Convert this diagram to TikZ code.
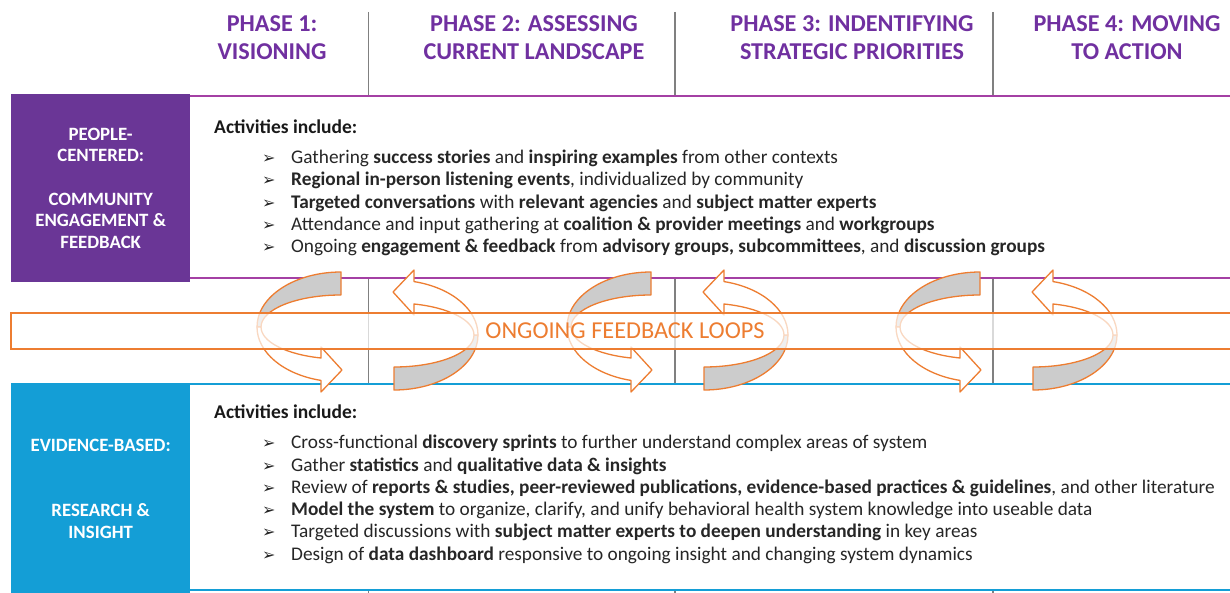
\documentclass[tikz,border=0pt]{standalone}
\usepackage{fontspec}
\setmainfont{Carlito}
\newfontfamily\dingfont{DejaVu Sans}
\usetikzlibrary{positioning}

\definecolor{phasepurple}{RGB}{112,48,160}
\definecolor{boxpurple}{RGB}{106,54,150}
\definecolor{rulepurple}{RGB}{164,64,164}
\definecolor{boxblue}{RGB}{20,158,214}
\definecolor{looporange}{RGB}{237,125,49}
\definecolor{loopgray}{RGB}{204,204,204}
\definecolor{divgray}{RGB}{128,128,128}

\newcommand{\bul}{\makebox[29pt][l]{\dingfont\fontsize{16}{16}\selectfont ➢}}
% one half of a feedback loop, centre at (#1,#2), turned by #3
\newcommand{\halfloop}[3]{%
\begin{scope}[shift={(#1,#2)}, rotate=#3]
\draw [loopline, fill=loopgray] (0,-55) arc[start angle=270, end angle=180, x radius=84, y radius=55]
  -- (-80,0) arc[start angle=180, end angle=270, x radius=80, y radius=32] -- cycle;
\draw [loopline, fill=white] (-84,0) arc[start angle=180, end angle=103.8, x radius=84, y radius=55]
  -- (-20,65) -- (1,43) -- (-20,20) -- (-20,31)
  arc[start angle=104.5, end angle=180, x radius=80, y radius=32] -- cycle;
\end{scope}}

\tikzstyle{phase} = [text=phasepurple,
font=\fontsize{24.2}{28}\selectfont\bfseries,
align=center]
\tikzstyle{sidebox} = [rectangle,
minimum width=179pt,
anchor=north west,
text=white,
font=\fontsize{18.8}{21.7}\selectfont\bfseries,
align=center]
\tikzstyle{heading} = [anchor=west, inner sep=0pt,
font=\fontsize{19.5}{20}\selectfont\bfseries, text=black!90]
\tikzstyle{activities} = [anchor=west, inner sep=0pt, align=left,
font=\fontsize{19.3}{22.25}\selectfont, text=black!85]
\tikzstyle{divider} = [draw=divgray, line width=1.3pt]
\tikzstyle{purplerule} = [draw=rulepurple, line width=2pt]
\tikzstyle{bluerule} = [draw=boxblue, line width=2pt]
\tikzstyle{loopline} = [draw=looporange, line width=1.3pt, line join=round]
\tikzstyle{band} = [draw=looporange, line width=1.8pt, fill=white, fill opacity=0.7]

\begin{document}
\begin{tikzpicture}[x=1pt, y=-1pt]
\useasboundingbox (0,0) rectangle (1230,593);

% phase headings
\node (phase1) [phase] at (272,37.5) {PHASE 1:\\VISIONING};
\node (phase2) [phase] at (534,37.5) {PHASE 2: ASSESSING\\CURRENT LANDSCAPE};
\node (phase3) [phase] at (852,37.5) {PHASE 3: INDENTIFYING\\STRATEGIC PRIORITIES};
\node (phase4) [phase] at (1127,37.5) {PHASE 4: MOVING\\TO ACTION};

% phase dividers
\foreach \x in {368.5,675,993} {
  \draw [divider] (\x,12) -- (\x,96);
  \draw [divider] (\x,278) -- (\x,384);
  \draw [divider] (\x,590) -- (\x,593);
}

% people-centered row
\node (people) [sidebox, fill=boxpurple, minimum height=188pt] at (11,94)
  {PEOPLE-\\CENTERED:\\[21.7pt]COMMUNITY\\ENGAGEMENT \&\\FEEDBACK};
\draw [purplerule] (190,96.5) -- (1230,96.5);
\draw [purplerule] (190,277.7) -- (1230,277.7);
\node (acttop) [heading] at (214,127) {Activities include:};
\node (listtop) [activities] at (262,203) {%
\bul Gathering \textbf{success stories} and \textbf{inspiring examples} from other contexts\\
\bul \textbf{Regional in-person listening events}, individualized by community\\
\bul \textbf{Targeted conversations} with \textbf{relevant agencies} and \textbf{subject matter experts}\\
\bul Attendance and input gathering at \textbf{coalition \& provider meetings} and \textbf{workgroups}\\
\bul Ongoing \textbf{engagement \& feedback} from \textbf{advisory groups, subcommittees}, and \textbf{discussion groups}};

% evidence-based row
\node (evidence) [sidebox, fill=boxblue, minimum height=212pt] at (11,382.7)
  {EVIDENCE-BASED:\\[43.4pt]RESEARCH \&\\INSIGHT};
\draw [bluerule] (190,384) -- (1230,384);
\draw [bluerule] (190,589.5) -- (1230,589.5);
\node (actbottom) [heading] at (214,412) {Activities include:};
\node (listbottom) [activities] at (262,499.5) {%
\bul Cross-functional \textbf{discovery sprints} to further understand complex areas of system\\
\bul Gather \textbf{statistics} and \textbf{qualitative data \& insights}\\
\bul Review of \textbf{reports \& studies, peer-reviewed publications, evidence-based practices \& guidelines}, and other literature\\
\bul \textbf{Model the system} to organize, clarify, and unify behavioral health system knowledge into useable data\\
\bul Targeted discussions with \textbf{subject matter experts to deepen understanding} in key areas\\
\bul Design of \textbf{data dashboard} responsive to ongoing insight and changing system dynamics};

% feedback loops
\foreach \lx in {341,651,980} {
  \halfloop{\lx}{327}{0}
  \halfloop{\lx+53}{335}{180}
}
\draw [band] (11,313) rectangle (1240,349);
\node (loops) [text=looporange, font=\fontsize{24.3}{24}\selectfont] at (625,331) {ONGOING FEEDBACK LOOPS};

\end{tikzpicture}
\end{document}
